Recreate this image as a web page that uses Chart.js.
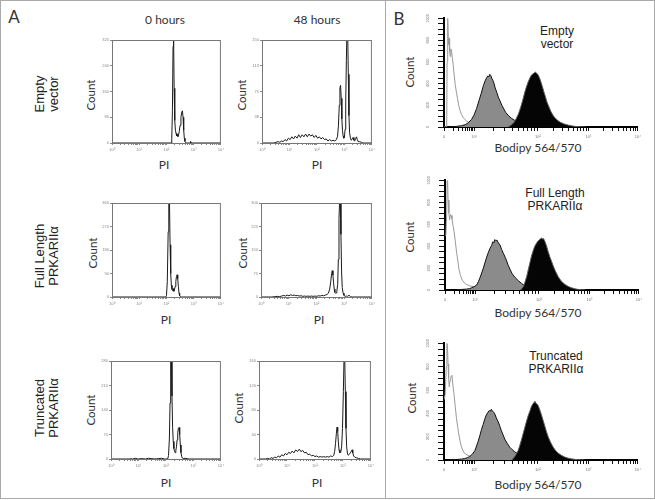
<!DOCTYPE html>
<html>
<head>
<meta charset="utf-8">
<script src="https://cdn.jsdelivr.net/npm/chart.js@4.4.1/dist/chart.umd.min.js"></script>
<style>
body{margin:0;background:#fff;}
#fig{position:relative;width:655px;height:500px;overflow:hidden;background:#fff;}
#frame{position:absolute;left:0;top:0;width:653px;height:497px;border:1px solid #aaa;}
#divider{position:absolute;left:385px;top:0;width:1px;height:499px;background:#aaa;}
.lbl{position:absolute;transform:translate(-50%,-50%);white-space:nowrap;color:#333;font-family:Lato,sans-serif;font-size:12px;line-height:1;}
.rot{transform:translate(-50%,-50%) rotate(-90deg);}
.arial{font-family:"Liberation Sans",Arial,sans-serif;text-align:center;color:#222;}
.row{font-size:13px;line-height:13.5px;}
.tag{font-size:12px;line-height:12.7px;}
canvas{position:absolute;}
</style>
</head>
<body>
<div id="fig">
  <div id="frame"></div>
  <div id="divider"></div>
  <div class="lbl" style="left:14px;top:16px;font-size:17px">A</div>
  <div class="lbl" style="left:399px;top:18px;font-size:17px">B</div>
  <div class="lbl" style="left:165px;top:20px">0 hours</div>
  <div class="lbl" style="left:317px;top:20px">48 hours</div>

  <div class="lbl rot arial row" style="left:46px;top:94px">Empty<br>vector</div>
  <div class="lbl rot arial row" style="left:46px;top:256px">Full Length<br>PRKARIIα</div>
  <div class="lbl rot arial row" style="left:46px;top:408px">Truncated<br>PRKARIIα</div>

  <div class="lbl rot" style="left:91px;top:95px;font-size:11.5px">Count</div>
  <div class="lbl rot" style="left:242px;top:95px;font-size:11.5px">Count</div>
  <div class="lbl rot" style="left:93px;top:253px;font-size:11.5px">Count</div>
  <div class="lbl rot" style="left:243px;top:253px;font-size:11.5px">Count</div>
  <div class="lbl rot" style="left:91px;top:410px;font-size:11.5px">Count</div>
  <div class="lbl rot" style="left:239px;top:408px;font-size:11.5px">Count</div>

  <div class="lbl" style="left:164px;top:165px">PI</div>
  <div class="lbl" style="left:317px;top:165px">PI</div>
  <div class="lbl" style="left:166px;top:320px">PI</div>
  <div class="lbl" style="left:319px;top:320px">PI</div>
  <div class="lbl" style="left:166px;top:483px">PI</div>
  <div class="lbl" style="left:317px;top:483px">PI</div>

  <div class="lbl rot" style="left:410px;top:72px;font-size:11.5px">Count</div>
  <div class="lbl rot" style="left:410px;top:237px;font-size:11.5px">Count</div>
  <div class="lbl rot" style="left:412px;top:398px;font-size:11.5px">Count</div>

  <div class="lbl" style="left:538px;top:148px">Bodipy 564/570</div>
  <div class="lbl" style="left:538px;top:313px">Bodipy 564/570</div>
  <div class="lbl" style="left:538px;top:485px">Bodipy 564/570</div>

  <div class="lbl arial tag" style="left:557px;top:38px">Empty<br>vector</div>
  <div class="lbl arial tag" style="left:555px;top:200px">Full Length<br>PRKARIIα</div>
  <div class="lbl arial tag" style="left:556px;top:363px">Truncated<br>PRKARIIα</div>
</div>
<script>
// Panel A: PI histograms, [channel 0-1024 (4 log decades), count]
const piDecadeTicks = [0, 256, 512, 768, 1024];
const piDecadeLabels = ['10⁰', '10¹', '10²', '10³', '10⁴'];
const piCountMax = [320, 150, 360, 300, 280, 160];

const emptyVec0h = [[0,0],[556,0],[562,15],[568,100],[574,300],[579,340],[584,170],[590,70],[596,40],[602,30],[608,22],[614,28],[620,20],[626,26],[632,35],[640,55],[648,80],[656,96],[662,100],[668,80],[674,40],[680,15],[686,5],[692,1],[700,0],[734,0],[739,5],[744,0],[1024,0]];
const emptyVec48h = [[0,0],[110,0],[130,1],[150,2],[166,1],[182,3],[198,2],[214,5],[230,3],[246,7],[262,5],[278,9],[294,6],[310,10],[326,7],[342,12],[358,8],[374,12],[390,9],[406,13],[422,9],[438,13],[454,10],[470,12],[486,8],[502,11],[518,7],[534,9],[550,6],[566,8],[582,5],[598,6],[614,3],[630,5],[646,3],[662,4],[678,3],[694,5],[704,10],[712,25],[720,55],[726,80],[732,84],[738,65],[744,35],[750,18],[756,10],[762,7],[768,8],[774,20],[780,60],[786,120],[792,170],[798,165],[804,100],[810,40],[816,15],[824,7],[832,4],[840,6],[848,8],[856,4],[864,3],[872,6],[880,9],[888,5],[896,2],[910,2],[925,1],[940,0],[1024,0]];
const fullLen0h = [[0,0],[505,0],[512,5],[520,60],[528,250],[534,370],[540,380],[546,200],[552,90],[558,45],[564,30],[570,24],[576,32],[582,22],[588,30],[594,40],[600,60],[606,78],[612,85],[618,70],[624,40],[630,15],[636,5],[644,1],[655,0],[1024,0]];
const fullLen48h = [[0,0],[100,0],[130,1],[150,2],[170,1],[190,3],[210,5],[226,3],[242,6],[258,4],[274,7],[290,5],[306,6],[322,4],[338,5],[354,3],[370,4],[386,2],[402,3],[418,2],[434,3],[450,2],[466,3],[482,2],[498,3],[514,2],[530,4],[546,3],[562,5],[578,4],[594,6],[610,8],[622,12],[634,25],[644,50],[652,75],[658,84],[664,70],[670,45],[676,25],[682,15],[688,12],[694,13],[700,18],[708,40],[714,120],[720,250],[726,310],[732,310],[738,200],[744,80],[750,30],[758,12],[766,5],[774,3],[782,2],[790,3],[798,2],[806,4],[812,6],[818,3],[826,1],[840,0],[1024,0]];
const trunc0h = [[0,0],[170,0],[180,1],[200,0],[230,2],[250,0],[290,1],[320,0],[350,2],[380,1],[410,0],[440,1],[470,2],[500,0],[528,0],[536,10],[544,60],[550,160],[556,290],[562,300],[568,180],[574,90],[580,50],[586,30],[592,22],[598,18],[604,25],[610,35],[616,55],[622,75],[628,88],[634,90],[640,70],[646,40],[652,18],[658,8],[664,3],[672,1],[690,2],[710,1],[730,0],[1024,0]];
const trunc48h = [[0,0],[60,0],[80,1],[96,0],[112,2],[128,1],[144,3],[160,2],[176,5],[192,3],[208,7],[224,5],[240,9],[256,7],[272,11],[288,9],[304,13],[320,10],[336,15],[352,12],[368,16],[384,12],[400,14],[416,10],[432,11],[448,7],[464,8],[480,5],[496,6],[512,4],[528,5],[544,3],[560,4],[576,3],[592,4],[608,3],[624,4],[640,3],[656,5],[672,4],[684,6],[692,12],[700,25],[708,42],[714,52],[720,45],[726,28],[732,15],[740,10],[748,11],[756,20],[764,50],[772,110],[778,165],[784,170],[790,110],[796,50],[802,20],[810,8],[818,6],[826,8],[836,10],[846,13],[852,15],[858,10],[866,5],[876,3],[890,2],[910,1],[930,0],[1024,0]];

// Panel B: Bodipy histograms, [display position 0-1000, count]
const bodipyTicks = [0, 155, 484, 745, 1000];
const bodipyTickLabels = ['0', '10¹', '10²', '10³', '10⁴'];

const evOpen = [[0,0],[14,0],[16,600],[18,1000],[20,1030],[23,760],[26,820],[29,700],[32,650],[35,720],[39,700],[43,640],[48,560],[53,470],[58,390],[64,320],[70,260],[76,200],[83,150],[90,115],[98,90],[108,68],[118,52],[130,40],[145,30],[160,20],[180,10],[200,4],[230,0]];
const evGray = [[30,0],[45,3],[65,6],[90,12],[110,22],[126,40],[142,70],[155,110],[168,170],[180,240],[192,310],[203,380],[212,425],[220,455],[226,470],[231,462],[236,485],[241,475],[246,450],[252,430],[258,400],[264,360],[272,320],[280,275],[289,240],[298,200],[306,175],[318,135],[332,105],[348,80],[367,58],[385,40],[401,26],[418,16],[435,10],[455,4],[480,0]];
const evBlack = [[330,0],[345,15],[360,40],[372,75],[384,120],[395,180],[405,240],[415,310],[425,370],[435,420],[444,455],[452,480],[460,490],[466,500],[472,505],[478,495],[485,480],[492,455],[499,420],[506,380],[514,330],[522,285],[530,235],[540,190],[552,140],[565,100],[580,70],[598,45],[620,28],[645,15],[670,7],[700,2],[730,0]];

const flOpen = [[0,500],[5,520],[9,700],[11,1000],[13,1030],[16,820],[20,700],[24,640],[28,690],[32,680],[36,650],[42,580],[48,520],[54,430],[60,340],[66,270],[72,190],[80,130],[89,90],[100,65],[112,50],[128,38],[146,30],[165,20],[185,10],[210,3],[240,0]];
const flGray = [[60,0],[86,5],[110,8],[125,12],[137,20],[150,30],[163,45],[172,75],[180,110],[189,155],[198,200],[206,250],[215,300],[224,345],[232,380],[240,405],[247,440],[252,430],[257,460],[262,450],[268,455],[275,430],[284,410],[292,370],[301,335],[310,300],[318,265],[326,225],[335,190],[346,150],[361,115],[378,85],[395,60],[412,38],[430,22],[447,10],[464,5],[480,2],[500,0]];
const flBlack = [[390,0],[404,30],[412,70],[421,120],[430,190],[438,250],[446,310],[455,360],[463,400],[473,430],[481,450],[490,462],[498,475],[503,465],[508,470],[516,440],[524,400],[532,350],[541,300],[550,260],[558,220],[570,170],[584,120],[600,80],[619,50],[636,32],[653,20],[670,11],[687,5],[705,2],[725,0]];

const trOpen = [[0,517],[6,560],[12,800],[15,1030],[18,960],[21,824],[24,700],[27,628],[31,680],[34,700],[38,720],[41,726],[46,640],[52,560],[58,460],[64,363],[70,290],[76,223],[83,160],[90,112],[98,80],[107,56],[120,42],[133,34],[150,25],[170,15],[195,6],[220,0]];
const trGray = [[30,0],[38,2],[55,3],[72,5],[90,8],[107,12],[120,20],[133,30],[146,50],[159,80],[168,120],[176,160],[185,210],[193,260],[202,305],[210,350],[218,385],[227,410],[234,425],[240,418],[244,435],[250,420],[256,410],[262,395],[270,360],[279,330],[288,290],[296,250],[305,215],[313,180],[325,145],[339,110],[352,88],[365,70],[382,52],[399,40],[416,25],[434,15],[451,7],[468,3],[485,1],[502,0]];
const trBlack = [[350,0],[365,30],[374,55],[382,80],[390,120],[399,170],[408,225],[417,280],[425,330],[434,380],[443,420],[451,460],[460,485],[465,495],[468,505],[473,490],[478,480],[485,470],[494,430],[502,390],[511,340],[520,290],[528,245],[537,200],[550,150],[563,110],[576,80],[588,60],[605,40],[623,25],[640,16],[657,10],[675,5],[692,3],[710,1],[726,0]];

Chart.defaults.font.family = '"Liberation Sans", Arial, sans-serif';
const fig = document.getElementById('fig');
const toPts = arr => arr.map(p => ({x:p[0], y:p[1]}));

// log-style minor ticks between the labelled positions
function minorTicks(majors){
  const out = [];
  for(let i=0;i<majors.length-1;i++){
    const a = majors[i], b = majors[i+1];
    out.push(a);
    for(let m=2;m<10;m++) out.push(a + (b-a)*Math.log10(m));
  }
  out.push(majors[majors.length-1]);
  return out;
}
const piMinor = minorTicks(piDecadeTicks);
const bodipyMinor = minorTicks(bodipyTicks);

function addCanvas(left, top, w, h){
  const c = document.createElement('canvas');
  c.width = w; c.height = h;
  c.style.left = left+'px'; c.style.top = top+'px';
  c.style.width = w+'px'; c.style.height = h+'px';
  fig.appendChild(c);
  return c;
}

// grey box around the PI plots
const framePlugin = {
  id:'frame',
  afterDatasetsDraw(chart){
    const a = chart.chartArea, c = chart.ctx;
    c.save();
    c.strokeStyle = '#777'; c.lineWidth = 1;
    c.strokeRect(a.left+0.5, a.top+0.5, a.right-a.left-1, a.bottom-a.top);
    c.restore();
  }
};

function piChart(box, data, yMax){
  const cv = addCanvas(box[0]-14, box[1]-4, box[2]+19, box[3]+16);
  new Chart(cv, {
    type:'line',
    data:{ datasets:[{data:toPts(data), borderColor:'#1a1a1a', borderWidth:1, pointRadius:0, tension:0}] },
    options:{
      responsive:false, animation:false, events:[],
      layout:{padding:{left:0, top:4, right:5, bottom:0}},
      plugins:{legend:{display:false}, tooltip:{enabled:false}},
      scales:{
        x:{type:'linear', min:0, max:1024,
          afterBuildTicks: s => { s.ticks = piMinor.map(v => ({value:v})); },
          afterFit: s => { s.height = 12; },
          ticks:{autoSkip:false, maxRotation:0, minRotation:0, padding:2, color:'#888', font:{size:4},
            callback: v => { const i = piDecadeTicks.indexOf(v); return i < 0 ? '' : piDecadeLabels[i]; }},
          grid:{drawOnChartArea:false, tickLength:2, color:'#888'},
          border:{display:false}},
        y:{min:0, max:yMax,
          afterBuildTicks: s => { s.ticks = [0,1,2,3,4].map(k => ({value:yMax*k/4})); },
          afterFit: s => { s.width = 14; },
          ticks:{autoSkip:false, padding:1, color:'#888', font:{size:4}, callback: v => Math.round(v)},
          grid:{drawOnChartArea:false, tickLength:2, color:'#888'},
          border:{display:false}}
      }
    },
    plugins:[framePlugin]
  });
}

// ax = [axis x, top, right end, axis y]
function bodipyChart(ax, open, gray, black){
  const cv = addCanvas(ax[0]-20, ax[1]-5, ax[2]-ax[0]+26, ax[3]-ax[1]+19);
  new Chart(cv, {
    type:'line',
    data:{ datasets:[
      {data:toPts(black), fill:'origin', backgroundColor:'#050505', borderColor:'#5e5e5e', borderWidth:1, pointRadius:0, tension:0},
      {data:toPts(gray), fill:'origin', backgroundColor:'#8b8b8b', borderColor:'#111', borderWidth:1, pointRadius:0, tension:0},
      {data:toPts(open), fill:false, borderColor:'#999', borderWidth:1, pointRadius:0, tension:0}
    ]},
    options:{
      responsive:false, animation:false, events:[],
      layout:{padding:{left:0, top:5, right:6, bottom:0}},
      plugins:{legend:{display:false}, tooltip:{enabled:false}},
      scales:{
        x:{type:'linear', min:0, max:1000,
          afterBuildTicks: s => { s.ticks = bodipyMinor.map(v => ({value:v})); },
          afterFit: s => { s.height = 14; },
          ticks:{autoSkip:false, maxRotation:0, minRotation:0, padding:3, color:'#777', font:{size:4},
            callback: v => { const i = bodipyTicks.indexOf(v); return i < 0 ? '' : bodipyTickLabels[i]; }},
          grid:{drawOnChartArea:false, tickLength:4, color:'#111'},
          border:{color:'#000', width:2}},
        y:{min:0, max:1000,
          afterFit: s => { s.width = 20; },
          ticks:{autoSkip:false, stepSize:50, padding:6, minRotation:90, maxRotation:90, crossAlign:'center',
            color:'#777', font:{size:4}, callback: v => v % 200 === 0 ? v : ''},
          grid:{drawOnChartArea:false, tickLength:6, color:'#111'},
          border:{color:'#000', width:2}}
      }
    }
  });
}

piChart([112, 40, 109, 103], emptyVec0h, piCountMax[0]);
piChart([262, 40, 110, 103], emptyVec48h, piCountMax[1]);
piChart([112, 203, 109, 94], fullLen0h, piCountMax[2]);
piChart([261, 203, 111, 94], fullLen48h, piCountMax[3]);
piChart([111, 361, 110, 98], trunc0h, piCountMax[4]);
piChart([259, 361, 112, 98], trunc48h, piCountMax[5]);

bodipyChart([444, 15, 638, 127], evOpen, evGray, evBlack);
bodipyChart([445, 177, 639, 290], flOpen, flGray, flBlack);
bodipyChart([444, 340, 638, 460], trOpen, trGray, trBlack);
</script>
</body>
</html>
